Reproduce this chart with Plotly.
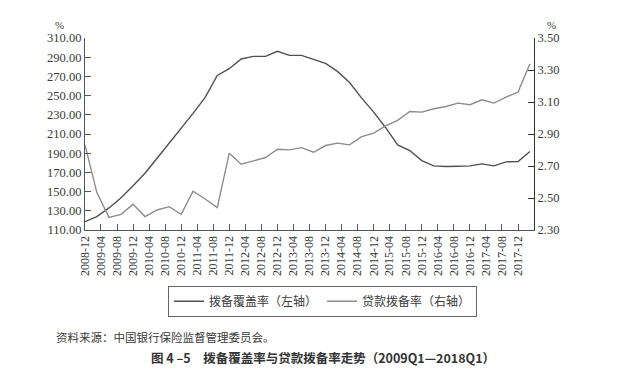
import plotly.graph_objects as go
import pandas as pd

quarters = ["2008-12", "2009-03", "2009-06", "2009-09", "2009-12",
            "2010-03", "2010-06", "2010-09", "2010-12",
            "2011-03", "2011-06", "2011-09", "2011-12",
            "2012-03", "2012-06", "2012-09", "2012-12",
            "2013-03", "2013-06", "2013-09", "2013-12",
            "2014-03", "2014-06", "2014-09", "2014-12",
            "2015-03", "2015-06", "2015-09", "2015-12",
            "2016-03", "2016-06", "2016-09", "2016-12",
            "2017-03", "2017-06", "2017-09", "2017-12",
            "2018-03"]

coverage_ratio = [118.7, 123.9, 133.0, 143.5, 156.0,
                  169.1, 184.8, 200.4, 216.8,
                  231.5, 248.1, 271.0, 278.0,
                  288.1, 290.9, 290.9, 296.1,
                  291.9, 291.9, 288.1, 283.6,
                  275.2, 263.7, 247.4, 232.8,
                  216.8, 198.7, 192.8, 182.3,
                  176.8, 176.1, 176.4, 176.8,
                  178.9, 176.8, 181.0, 181.3,
                  191.7]

provision_ratio = [2.832, 2.534, 2.379, 2.398, 2.461,
                   2.384, 2.425, 2.446, 2.398,
                   2.542, 2.494, 2.440, 2.780,
                   2.711, 2.732, 2.753, 2.805,
                   2.801, 2.815, 2.786, 2.828,
                   2.843, 2.832, 2.884, 2.905,
                   2.951, 2.985, 3.041, 3.037,
                   3.058, 3.072, 3.093, 3.083,
                   3.114, 3.093, 3.131, 3.162,
                   3.339]

tick_labels = ["2008-12", "2009-04", "2009-08", "2009-12", "2010-04", "2010-08",
               "2010-12", "2011-04", "2011-08", "2011-12", "2012-04", "2012-08",
               "2012-12", "2013-04", "2013-08", "2013-12", "2014-04", "2014-08",
               "2014-12", "2015-04", "2015-08", "2015-12", "2016-04", "2016-08",
               "2016-12", "2017-04", "2017-08", "2017-12"]

x_dates = pd.to_datetime([q + "-01" for q in quarters])
tick_dates = pd.to_datetime([t + "-01" for t in tick_labels])

num_font = "Liberation Serif"
cjk_font = "Noto Sans CJK SC"
text_color = "#3a3a3a"
axis_color = "#555555"

fig = go.Figure()
fig.add_trace(go.Scatter(x=x_dates, y=coverage_ratio, mode="lines",
                         name="拨备覆盖率（左轴）",
                         line=dict(color="#505050", width=1.4)))
fig.add_trace(go.Scatter(x=x_dates, y=provision_ratio, mode="lines",
                         name="贷款拨备率（右轴）", yaxis="y2",
                         line=dict(color="#8c8c8c", width=1.4)))

fig.update_layout(
    width=642, height=376,
    margin=dict(l=77, r=116, t=30, b=154),
    paper_bgcolor="white", plot_bgcolor="white",
    font=dict(family=num_font, size=12, color=text_color),
    xaxis=dict(
        type="date",
        range=["2008-12-01", "2018-04-01"],
        tickmode="array", tickvals=tick_dates, ticktext=tick_labels,
        tickangle=-90, ticks="inside", ticklen=6, tickcolor=axis_color,
        showline=True, linecolor=axis_color, linewidth=1.2,
        showgrid=False, zeroline=False,
        tickfont=dict(family=num_font, size=12, color=text_color),
    ),
    yaxis=dict(
        range=[110, 310], dtick=20, tick0=110, tickformat=".2f",
        ticks="inside", ticklen=6, tickcolor=axis_color,
        showline=True, linecolor=axis_color, linewidth=1.2,
        showgrid=False, zeroline=False,
        tickfont=dict(family=num_font, size=12.5, color=text_color),
    ),
    yaxis2=dict(
        range=[2.3, 3.5], dtick=0.2, tick0=2.3, tickformat=".2f",
        overlaying="y", side="right",
        ticks="inside", ticklen=6, tickcolor="#333333",
        showline=True, linecolor="#333333", linewidth=1.2,
        showgrid=False, zeroline=False,
        tickfont=dict(family=num_font, size=12.5, color=text_color),
    ),
    legend=dict(
        orientation="h", x=0.529, xanchor="center", y=-0.29, yanchor="top",
        bordercolor="#666666", borderwidth=1, bgcolor="white",
        font=dict(family=cjk_font, size=12, color=text_color),
        itemwidth=30,
    ),
    showlegend=True,
    annotations=[
        dict(text="%", x=-0.056, y=1.068, xref="paper", yref="paper",
             showarrow=False, xanchor="center", yanchor="middle",
             font=dict(family=num_font, size=11, color=text_color)),
        dict(text="%", x=1.038, y=1.068, xref="paper", yref="paper",
             showarrow=False, xanchor="center", yanchor="middle",
             font=dict(family=num_font, size=11, color=text_color)),
        dict(text="资料来源：中国银行保险监督管理委员会。", x=-0.069, y=-0.555,
             xref="paper", yref="paper", showarrow=False,
             xanchor="left", yanchor="middle",
             font=dict(family=cjk_font, size=11.5, color=text_color)),
        dict(text="<b>图 4 –5　拨备覆盖率与贷款拨备率走势（2009Q1—2018Q1）</b>",
             x=0.53, y=-0.665, xref="paper", yref="paper", showarrow=False,
             xanchor="center", yanchor="middle",
             font=dict(family=cjk_font, size=12.5, color="#333333")),
    ],
)

fig.write_html("out.html")
